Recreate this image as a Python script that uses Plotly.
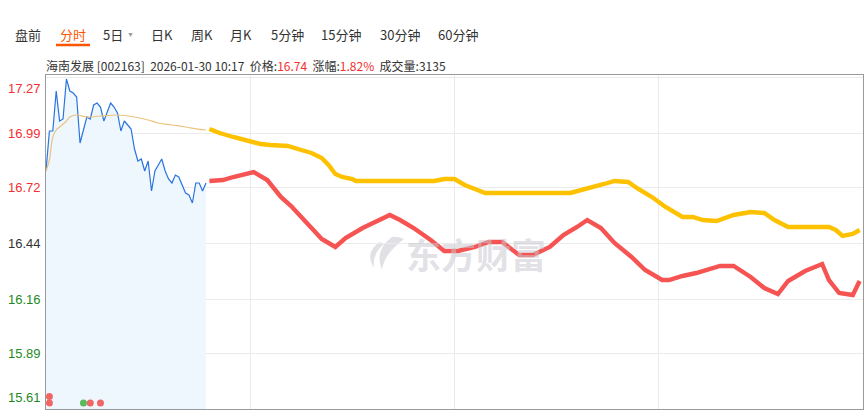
import plotly.graph_objects as go

# ---------------- data ----------------
prev_close = 16.44
y_ticks = [17.27, 16.99, 16.72, 16.44, 16.16, 15.89, 15.61]
y_tick_colors = ["#f23030", "#f23030", "#f23030", "#333333", "#1e8a1e", "#1e8a1e", "#1e8a1e"]

# minutes since 09:30 (0..240 covers full trading day)
price_min = list(range(48))
price_val = [16.80, 17.00, 17.00, 17.20, 17.05, 17.06, 17.26, 17.20, 17.19, 17.17,
             16.94, 17.00, 17.07, 17.06, 17.13, 17.14, 17.12, 17.05, 17.10, 17.14,
             17.12, 17.09, 17.00, 17.05, 17.03, 17.01, 16.91, 16.85, 16.86, 16.80,
             16.85, 16.70, 16.80, 16.83, 16.86, 16.80, 16.76, 16.74, 16.78, 16.77,
             16.73, 16.69, 16.68, 16.64, 16.74, 16.74, 16.70, 16.74]

avg_min = [0, 1, 2, 3, 4, 6, 7, 9, 12, 16, 21, 26, 30, 33, 37, 41, 45, 47]
avg_val = [16.80, 16.855, 16.97, 17.005, 17.02, 17.05, 17.07, 17.08, 17.07, 17.075,
           17.08, 17.07, 17.055, 17.04, 17.03, 17.02, 17.008, 17.005]

yellow_min = [48, 51, 55, 59, 63, 66, 71, 75, 78, 81, 83, 85, 87, 90, 91, 114, 117, 120,
              123, 126, 129, 154, 159, 164, 167, 171, 174, 178, 182, 187, 190, 193, 197,
              202, 207, 211, 214, 218, 230, 232, 234, 237, 239]
yellow_val = [17.01, 16.99, 16.97, 16.95, 16.935, 16.93, 16.925, 16.905, 16.89, 16.865,
              16.83, 16.785, 16.77, 16.76, 16.75, 16.75, 16.76, 16.76, 16.73, 16.71,
              16.69, 16.69, 16.71, 16.735, 16.75, 16.745, 16.71, 16.67, 16.62, 16.57,
              16.57, 16.555, 16.55, 16.58, 16.595, 16.59, 16.555, 16.52, 16.52, 16.505,
              16.475, 16.485, 16.505]

red_min = [48, 52, 55, 58, 61, 65, 69, 72, 75, 78, 81, 85, 88, 93, 97, 101, 104, 108,
           113, 117, 121, 126, 130, 134, 139, 143, 148, 152, 156, 159, 163, 167, 172,
           176, 181, 183, 187, 191, 198, 202, 207, 211, 215, 218, 223, 228, 230, 233,
           237, 239]
red_val = [16.75, 16.755, 16.77, 16.78, 16.795, 16.755, 16.67, 16.625, 16.57, 16.515,
           16.46, 16.42, 16.465, 16.515, 16.55, 16.58, 16.555, 16.515, 16.455, 16.40,
           16.40, 16.42, 16.445, 16.445, 16.38, 16.38, 16.42, 16.48, 16.52, 16.555,
           16.515, 16.44, 16.37, 16.305, 16.255, 16.255, 16.275, 16.29, 16.325, 16.325,
           16.27, 16.215, 16.185, 16.25, 16.30, 16.335, 16.255, 16.19, 16.18, 16.25]

dot_red_min = [1, 1, 13, 16]
dot_red_val = [15.672, 15.64, 15.64, 15.64]
dot_green_min = [11]
dot_green_val = [15.64]

tabs = ["盘前", "分时", "5日", "日K", "周K", "月K", "5分钟", "15分钟", "30分钟", "60分钟"]
tab_x = [28, 73, 113, 162, 202, 241, 287, 341, 400, 458]

header_name = "海南发展 [002163]  2026-01-30 10:17  "
header_price = "16.74"
header_change = "1.82%"
header_volume = "3135"
watermark = "东方财富"

# ---------------- figure ----------------
W, H = 868, 410
L, R, T, B = 46, 5, 75, 1
plot_h = H - T - B
plot_w = W - L - R
y_lo = 15.61
y_hi = y_lo + (17.27 - y_lo) * plot_h / (plot_h - 2)


def px(xp):
    return (xp - L) / plot_w


def py(yp):
    return (H - B - yp) / plot_h


fig = go.Figure()

fig.add_trace(go.Scatter(x=price_min, y=price_val, mode="lines",
                         line=dict(color="#2a74de", width=1.2),
                         fill="tozeroy", fillcolor="#eef6fe", hoverinfo="skip"))
fig.add_trace(go.Scatter(x=avg_min, y=avg_val, mode="lines",
                         line=dict(color="#e9c47e", width=1.2, shape="spline"), hoverinfo="skip"))
fig.add_trace(go.Scatter(x=yellow_min, y=yellow_val, mode="lines",
                         line=dict(color="#fdc100", width=4.4), hoverinfo="skip"))
fig.add_trace(go.Scatter(x=red_min, y=red_val, mode="lines",
                         line=dict(color="#f65452", width=4.4), hoverinfo="skip"))
fig.add_trace(go.Scatter(x=dot_red_min, y=dot_red_val, mode="markers",
                         marker=dict(color="#f26565", size=7), hoverinfo="skip"))
fig.add_trace(go.Scatter(x=dot_green_min, y=dot_green_val, mode="markers",
                         marker=dict(color="#5cb85c", size=7), hoverinfo="skip"))

# y tick labels as annotations (edge labels nudged inside)
for v, c in zip(y_ticks, y_tick_colors):
    shift = 0
    if v == y_ticks[0]:
        shift = -11
    elif v == y_ticks[-1]:
        shift = 12
    fig.add_annotation(x=0, xref="paper", y=v, yref="y", text=str(v), showarrow=False,
                       xanchor="right", yanchor="middle", xshift=-3, yshift=shift,
                       font=dict(family="Liberation Sans, Arial", size=13, color=c))

# toolbar
for t, x in zip(tabs, tab_x):
    fig.add_annotation(x=px(x), xref="paper", y=py(35), yref="paper",
                       text=t, showarrow=False, xanchor="center", yanchor="middle",
                       font=dict(family="Noto Sans CJK SC", size=13,
                                 color="#ff5500" if t == "分时" else "#333333"))
fig.add_annotation(x=px(130), xref="paper", y=py(35), yref="paper", text="▼",
                   showarrow=False, xanchor="center", yanchor="middle",
                   font=dict(size=7, color="#999999"))
fig.add_shape(type="line", xref="paper", yref="paper",
              x0=px(56), x1=px(90), y0=py(45), y1=py(45),
              line=dict(color="#ff5500", width=2.5))

# header
hdr = (f"<span style='color:#333333'>{header_name}价格:</span>"
       f"<span style='color:#f23030'>{header_price}</span>"
       f"<span style='color:#333333'>  涨幅:</span>"
       f"<span style='color:#f23030'>{header_change}</span>"
       f"<span style='color:#333333'>  成交量:{header_volume}</span>")
fig.add_annotation(x=px(46), xref="paper", y=py(65), yref="paper", text=hdr,
                   showarrow=False, xanchor="left", yanchor="middle", xshift=-2,
                   font=dict(family="Noto Sans CJK SC", size=12, color="#333333"))

# watermark
wm_color = "rgba(200,200,208,0.55)"
fig.add_annotation(x=px(476), xref="paper", y=py(253), yref="paper",
                   text=f"<b>{watermark}</b>", showarrow=False, xanchor="center", yanchor="middle",
                   font=dict(family="Noto Sans CJK SC", size=35, color=wm_color))
# watermark logo (stylised swoosh)
logo = (f"M {px(392)} {py(237)} Q {px(374)} {py(250)} {px(382)} {py(270)} "
        f"Q {px(384)} {py(254)} {px(404)} {py(239)} "
        f"Q {px(398)} {py(236)} {px(392)} {py(237)} Z")
fig.add_shape(type="path", xref="paper", yref="paper", path=logo,
              fillcolor=wm_color, line=dict(width=0), layer="below")
logo2 = (f"M {px(380)} {py(242)} Q {px(364)} {py(252)} {px(374)} {py(268)} "
         f"Q {px(372)} {py(254)} {px(384)} {py(244)} Z")
fig.add_shape(type="path", xref="paper", yref="paper", path=logo2,
              fillcolor=wm_color, line=dict(width=0), layer="below")

fig.update_layout(
    width=W, height=H,
    margin=dict(l=L, r=R, t=T, b=B),
    paper_bgcolor="white", plot_bgcolor="white",
    showlegend=False,
    xaxis=dict(range=[0, 240], tickvals=[60, 120, 180], showticklabels=False,
               showgrid=True, gridcolor="#ebebeb", gridwidth=1, zeroline=False,
               showline=True, linecolor="#9a9a9a", linewidth=1, mirror=True, ticks=""),
    yaxis=dict(range=[y_lo, y_hi], tickvals=y_ticks, showticklabels=False,
               showgrid=True, gridcolor="#ebebeb", gridwidth=1, zeroline=False,
               showline=True, linecolor="#9a9a9a", linewidth=1, mirror=True, ticks=""),
)

fig.write_html("out.html", config={"displayModeBar": False},
               post_script="document.body.style.margin='0';document.body.style.overflow='hidden';")
